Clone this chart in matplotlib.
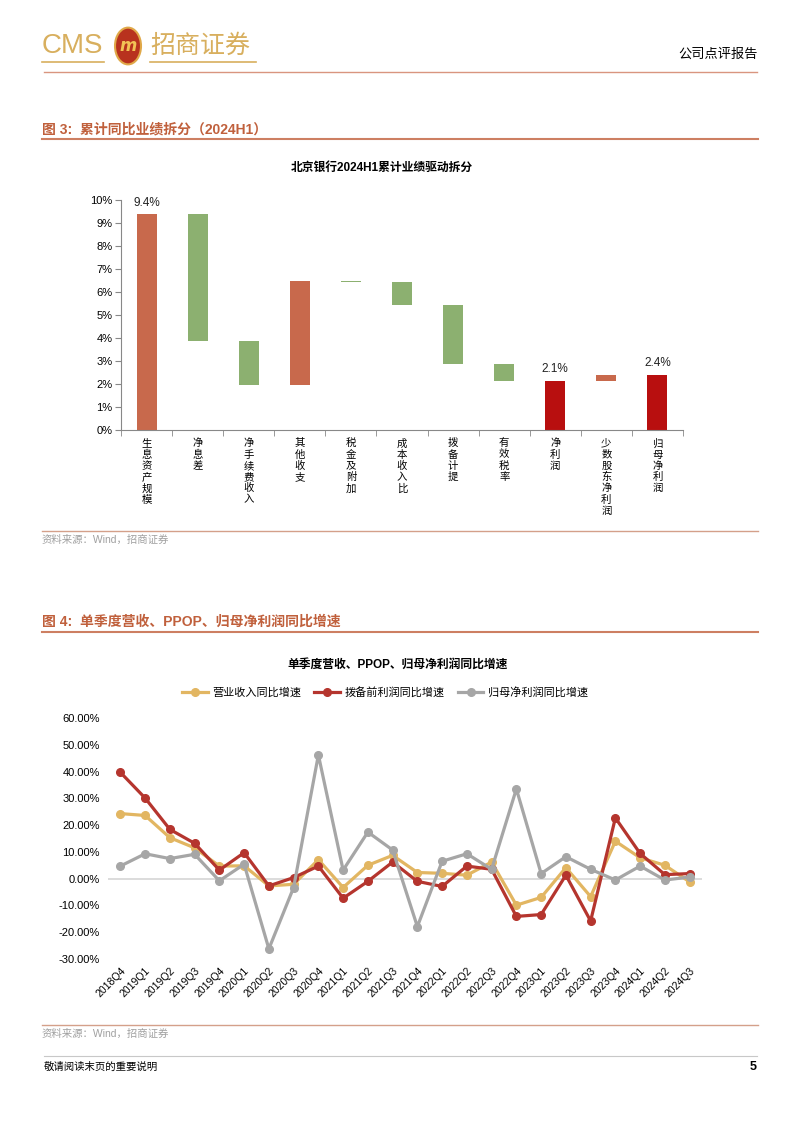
import matplotlib.pyplot as plt
import matplotlib.patches as mpatches
import numpy as np

plt.rcParams['font.family'] = ['Liberation Sans', 'Noto Sans CJK SC']
plt.rcParams['axes.unicode_minus'] = False

W, H = 802, 1133

# ---- chart 1: waterfall 2024H1 ----
wf_cats = ['生息资产规模', '净息差', '净手续费收入', '其他收支', '税金及附加', '成本收入比',
           '拨备计提', '有效税率', '净利润', '少数股东净利润', '归母净利润']
wf_delta = [9.38, -5.51, -1.92, 4.53, -0.03, -1.03, -2.55, -0.74, 2.13, 0.27, 2.40]
wf_total = [False, False, False, False, False, False, False, False, True, False, True]
wf_labels = {0: '9.4%', 8: '2.1%', 10: '2.4%'}

# ---- chart 2: quarterly yoy growth ----
quarters = ['2018Q4', '2019Q1', '2019Q2', '2019Q3', '2019Q4', '2020Q1', '2020Q2', '2020Q3',
            '2020Q4', '2021Q1', '2021Q2', '2021Q3', '2021Q4', '2022Q1', '2022Q2', '2022Q3',
            '2022Q4', '2023Q1', '2023Q2', '2023Q3', '2023Q4', '2024Q1', '2024Q2', '2024Q3']
revenue = [24.3, 23.6, 15.3, 11.5, 4.7, 4.8, -2.7, -2.1, 7.1, -3.3, 5.0, 8.7,
           2.3, 2.0, 1.3, 6.2, -9.9, -7.0, 4.1, -6.7, 14.0, 7.8, 5.0, -1.2]
ppop = [39.7, 30.1, 18.4, 13.2, 3.2, 9.7, -2.7, 0.4, 4.7, -7.3, -1.0, 6.2,
        -1.0, -2.9, 4.7, 3.5, -14.1, -13.4, 1.3, -15.8, 22.7, 9.4, 1.5, 1.9]
net_profit = [4.7, 9.3, 7.5, 9.1, -0.8, 5.4, -26.2, -3.3, 46.2, 3.2, 17.4, 10.7,
              -17.9, 6.5, 9.3, 3.5, 33.5, 1.9, 8.2, 3.5, -0.5, 4.7, -0.5, 0.6]
series_names = ['营业收入同比增速', '拨备前利润同比增速', '归母净利润同比增速']


def fx(px):
    return px / W


def fy(py):
    return 1 - py / H


fig = plt.figure(figsize=(W / 100, H / 100), dpi=100)

# header
gold = '#D8AF5E'
fig.text(fx(42), fy(46), 'CMS', fontsize=20, color=gold, va='center', ha='left')
fig.patches.append(mpatches.Circle((fx(128), fy(46)), 13 / W, transform=fig.transFigure,
                                   facecolor='#B8321E', edgecolor='#E0A848', lw=1.5))
fig.text(fx(128), fy(46), 'm', fontsize=12, color='#F2C255', fontweight='bold',
         ha='center', va='center', style='italic', family=['DejaVu Sans'])
fig.text(fx(150), fy(46), '招商证券', fontsize=18, color=gold, va='center', ha='left')
for x0, x1 in [(42, 104), (150, 256)]:
    fig.add_artist(plt.Line2D([fx(x0), fx(x1)], [fy(62), fy(62)], color=gold, lw=1.2))
fig.text(fx(758), fy(55), '公司点评报告', fontsize=9.5, ha='right', va='center')
fig.add_artist(plt.Line2D([fx(44), fx(757)], [fy(72), fy(72)], color='#D9957F', lw=1))

head_col = '#C0603C'
line_col = '#CD7F62'


def section(title, y_title, y_line):
    fig.text(fx(42), fy(y_title), title, fontsize=10, color=head_col, fontweight='bold',
             va='center', ha='left')
    fig.add_artist(plt.Line2D([fx(42), fx(758)], [fy(y_line), fy(y_line)], color=line_col, lw=1.5))


def source(y_line, y_text):
    fig.add_artist(plt.Line2D([fx(42), fx(758)], [fy(y_line), fy(y_line)], color='#D4A08A', lw=1))
    fig.text(fx(42), fy(y_text), '资料来源：Wind，招商证券', fontsize=7.5, color='#A0A0A0',
             va='center', ha='left')


section('图 3:  累计同比业绩拆分（2024H1）', 129, 139)
fig.text(fx(382), fy(168), '北京银行2024H1累计业绩驱动拆分', fontsize=8.5, fontweight='bold',
         ha='center', va='center')

# waterfall
ax1 = fig.add_axes([fx(121), fy(430), (683 - 121) / W, 230 / H])
x = np.arange(len(wf_cats))
lows, highs, colors = [], [], []
level = 0.0
for d, tot in zip(wf_delta, wf_total):
    if tot:
        lo, hi = 0.0, d
        level = d
        colors.append('#B80F0F')
    else:
        new = level + d
        lo, hi = min(level, new), max(level, new)
        colors.append('#C8694C' if d > 0 else '#8CB070')
        level = new
    lows.append(lo)
    highs.append(hi)
lows = np.array(lows)
highs = np.array(highs)
ax1.bar(x, highs - lows, bottom=lows, width=0.39, color=colors)
for i, lab in wf_labels.items():
    ax1.text(i, highs[i] + 0.25, lab, ha='center', va='bottom', fontsize=8.5, color='#222222')
ax1.set_xlim(-0.5, len(wf_cats) - 0.5)
ax1.set_ylim(0, 10)
ax1.set_yticks(np.arange(0, 11, 1))
ax1.set_yticklabels([f'{v}%' for v in range(0, 11)])
ax1.set_xticks(x)
ax1.set_xticklabels(['\n'.join(c) for c in wf_cats], va='top', linespacing=1.15, fontsize=7.5)
ax1.set_xticks(np.arange(-0.5, len(wf_cats)), minor=True)
ax1.tick_params(axis='x', which='major', length=0, pad=6)
ax1.tick_params(axis='x', which='minor', length=4, color='#888888', direction='out')
ax1.tick_params(axis='y', length=4, color='#888888', labelsize=8, pad=2)
for s in ['top', 'right']:
    ax1.spines[s].set_visible(False)
for s in ['left', 'bottom']:
    ax1.spines[s].set_color('#888888')
    ax1.spines[s].set_linewidth(0.8)

source(531, 540)

# quarterly lines
section('图 4:  单季度营收、PPOP、归母净利润同比增速', 622, 632)
fig.text(fx(398), fy(665), '单季度营收、PPOP、归母净利润同比增速', fontsize=8.5, fontweight='bold',
         ha='center', va='center')

ax2 = fig.add_axes([fx(108), fy(959), (702 - 108) / W, (959 - 718) / H])
xq = np.arange(len(quarters))
ax2.axhline(0, color='#D9D9D9', lw=1.3, zorder=1)
for vals, col, name in zip([revenue, ppop, net_profit], ['#E2B662', '#B5352E', '#A6A6A6'], series_names):
    ax2.plot(xq, vals, color=col, lw=2.3, marker='o', markersize=5.5, label=name, zorder=3)
ax2.set_xlim(-0.5, len(quarters) - 0.5)
ax2.set_ylim(-30, 60)
ax2.set_yticks(np.arange(-30, 61, 10))
ax2.set_yticklabels([f'{v:.2f}%' for v in np.arange(-30, 61, 10)])
ax2.set_xticks(xq)
ax2.set_xticklabels(quarters, rotation=45, ha='right', rotation_mode='anchor', fontsize=7.5)
ax2.tick_params(axis='both', length=0)
ax2.tick_params(axis='y', labelsize=8, pad=6)
ax2.tick_params(axis='x', pad=5)
for s in ax2.spines.values():
    s.set_visible(False)
ax2.legend(loc='center', bbox_to_anchor=(fx(385), fy(692)), bbox_transform=fig.transFigure,
           ncol=3, frameon=False, handlelength=2.3, columnspacing=1.2,
           handletextpad=0.4, prop={'family': ['Noto Sans CJK SC'], 'size': 8})

source(1025, 1034)

# footer
fig.add_artist(plt.Line2D([fx(44), fx(757)], [fy(1056), fy(1056)], color='#C8C8C8', lw=0.8))
fig.text(fx(44), fy(1067), '敬请阅读末页的重要说明', fontsize=7.5, va='center', ha='left')
fig.text(fx(757), fy(1067), '5', fontsize=9, fontweight='bold', va='center', ha='right')

fig.savefig('out.png', dpi=100)
